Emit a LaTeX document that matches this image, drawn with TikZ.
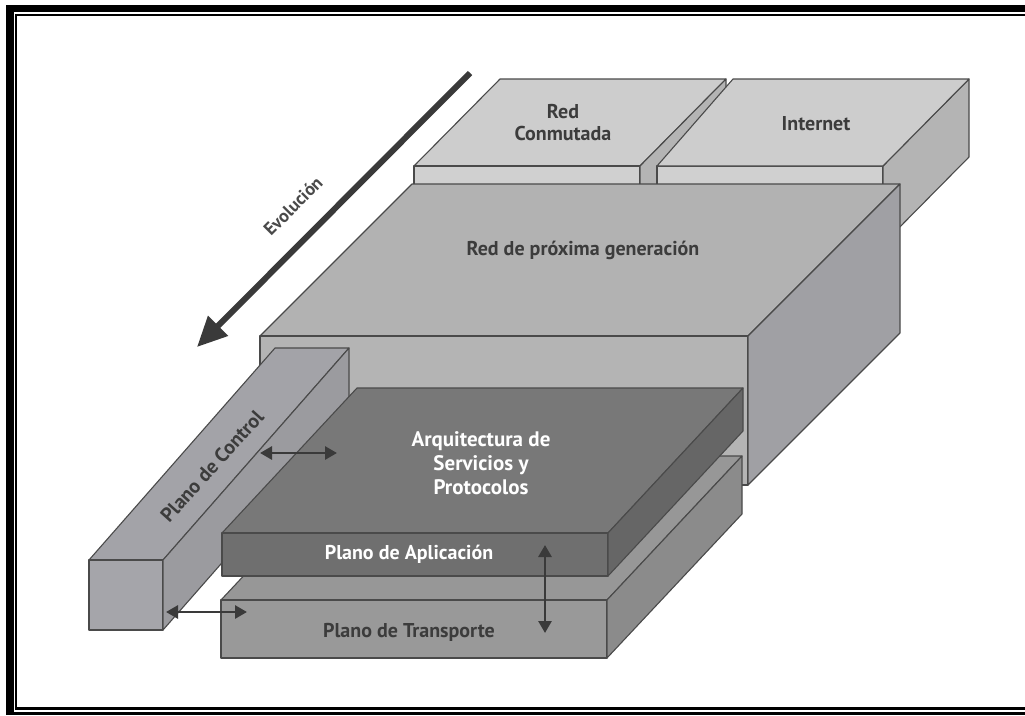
\documentclass[tikz,border=0pt]{standalone}
\usepackage{fontspec}
\setmainfont{PT Sans}
\usetikzlibrary{arrows.meta}

\definecolor{edge}{HTML}{4A4A4A}
\definecolor{ink}{HTML}{3C3C3C}
\definecolor{arrowgray}{HTML}{3A3A3A}
% legacy networks (top)
\definecolor{oldtop}{HTML}{CDCDCD}
\definecolor{oldfront}{HTML}{D0D0D0}
\definecolor{oldside}{HTML}{B4B4B4}
% next generation network
\definecolor{ngntop}{HTML}{B2B2B2}
\definecolor{ngnfront}{HTML}{B4B4B4}
\definecolor{ngnside}{HTML}{A0A0A4}
% control plane
\definecolor{ctltop}{HTML}{A3A3A8}
\definecolor{ctlfront}{HTML}{A5A5AA}
\definecolor{ctlside}{HTML}{9B9B9F}
% application plane
\definecolor{apptop}{HTML}{787878}
\definecolor{appfront}{HTML}{6F6F6F}
\definecolor{appside}{HTML}{666666}
% transport plane
\definecolor{trntop}{HTML}{979797}
\definecolor{trnfront}{HTML}{999999}
\definecolor{trnside}{HTML}{8B8B8B}

% oblique box: front rectangle (#1,#2)-(#3,#4), depth vector (#5,#6),
% fills for top, front and right faces
\newcommand\obliquebox[9]{%
  \filldraw[face,fill=#7] (#1,#2) -- ++(#5,#6) -- ++({#3-#1},0) -- ++({-(#5)},{-(#6)}) -- cycle;
  \filldraw[face,fill=#8] (#1,#2) rectangle (#3,#4);
  \filldraw[face,fill=#9] (#3,#2) -- ++(#5,#6) -- ++(0,{#4-#2}) -- ++({-(#5)},{-(#6)}) -- cycle;
}

\begin{document}
\begin{tikzpicture}[x=1pt,y=-1pt,
  face/.style={draw=edge,line width=1.1pt,line join=round},
  lbl/.style={font=\bfseries\fontsize{20}{24}\selectfont,text=ink,align=center,inner sep=0pt},
  lblw/.style={lbl,text=white},
  dbl/.style={draw=arrowgray,line width=2.8pt,{Triangle[length=12pt,width=13pt]}-{Triangle[length=12pt,width=13pt]}},
  evo/.style={draw=arrowgray,line width=6pt,-{Triangle[length=30pt,width=27pt]}}]
\useasboundingbox (0,0) rectangle (1025,715);
\fill[white] (0,0) rectangle (1025,715);

% double frame
\fill[black] (6,5) rectangle (1025,12);
\fill[black] (6,5) rectangle (14,715);
\fill[black] (6,711.5) rectangle (1025,715);
\draw[black,line width=2.2pt] (1030,15) -- (16,15) -- (16,708.5) -- (1030,708.5);

% legacy networks
\obliquebox{414}{166}{640}{250}{86}{-87}{oldtop}{oldfront}{oldside}
\filldraw[face,fill=oldfront] (657,166) rectangle (883,250);
\filldraw[face,fill=oldside] (883,166) -- (969,79) -- (969,157) -- (883,244) -- cycle;
\filldraw[face,fill=oldtop] (657,166) -- (733,79) -- (969,79) -- (883,166) -- cycle;

% next generation network
\obliquebox{260}{336}{748}{485}{152}{-152}{ngntop}{ngnfront}{ngnside}

% control plane bar
\obliquebox{89}{560}{163}{630}{186}{-212}{ctltop}{ctlfront}{ctlside}

% transport plane slab
\obliquebox{221}{600}{607}{658}{135}{-144}{trntop}{trnfront}{trnside}

% application plane slab
\obliquebox{222}{533}{608}{576}{135}{-145}{apptop}{appfront}{appside}

% labels
\node[lbl] (rc) at (563,123) {Red\\[-2pt]Conmutada};
\node[lbl] (inet) at (816,124) {Internet};
\node[lbl] (ngn) at (583,250) {Red de próxima generación};
\node[lblw,font=\bfseries\fontsize{21}{25}\selectfont] (asp) at (481,463) {Arquitectura de\\[-1pt]Servicios y\\[-1pt]Protocolos};
\node[lblw] (papp) at (409,554) {Plano de Aplicación};
\node[lbl] (ptrn) at (409,632) {Plano de Transporte};
\node[lbl,rotate=48] (pctl) at (212,466) {Plano de Control};
\node[lbl,font=\bfseries\fontsize{18}{21}\selectfont,text=edge,rotate=45] (evol) at (293,206) {Evolución};

% evolution arrow
\coordinate (evoA) at (470,73);
\coordinate (evoB) at (197,347);
\draw[evo] (evoA) -- (evoB);

% interactions between planes
\coordinate (c1) at (260,453);
\coordinate (a1) at (337,453);
\draw[dbl] (c1) -- (a1);
\coordinate (c2) at (166,612);
\coordinate (t2) at (247,612);
\draw[dbl] (c2) -- (t2);
\coordinate (a3) at (545,545);
\coordinate (t3) at (545,633);
\draw[dbl] (a3) -- (t3);
\end{tikzpicture}
\end{document}
